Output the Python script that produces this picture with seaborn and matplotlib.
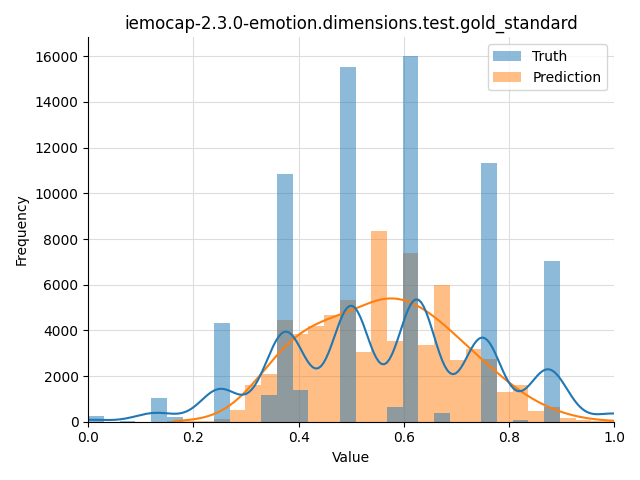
import numpy as np
import pandas as pd
import matplotlib
matplotlib.use("Agg")
import matplotlib.pyplot as plt
import seaborn as sns
from matplotlib.patches import Patch

# ==========================================
# Data (value -> count)
# ==========================================
TITLE = "iemocap-2.3.0-emotion.dimensions.test.gold_standard"

truth_values = [0.0, 0.0833, 0.125, 0.1667, 0.25, 0.3333, 0.375, 0.4167,
                0.5, 0.5833, 0.625, 0.6667, 0.75, 0.8333, 0.875, 1.0]
truth_counts = [260, 45, 1050, 220, 4330, 1180, 10850, 1400,
                15550, 630, 16030, 395, 11340, 90, 7050, 1100]

pred_values = [0.164, 0.194, 0.224, 0.254, 0.284, 0.314, 0.344, 0.374,
               0.404, 0.434, 0.463, 0.493, 0.523, 0.553, 0.583, 0.613,
               0.643, 0.673, 0.703, 0.733, 0.762, 0.792, 0.822, 0.852,
               0.882, 0.912, 0.942, 0.972, 1.002]
pred_counts = [20, 40, 45, 117, 525, 1620, 2100, 4470,
               3860, 4200, 4690, 5340, 3040, 8370, 3550, 7400,
               3340, 5970, 2720, 3200, 2760, 1285, 1620, 466,
               640, 160, 87, 40, 15]

BIN_WIDTH = 0.0299

df_truth = pd.DataFrame({"value": truth_values, "count": truth_counts})
df_pred = pd.DataFrame({"value": pred_values, "count": pred_counts})

blue, orange = sns.color_palette("tab10")[:2]

fig, ax = plt.subplots(figsize=(6.4, 4.8), dpi=100)

# prediction first so the truth bars sit on top (grey overlap)
pred_bins = [i * BIN_WIDTH for i in range(35)]
truth_bins = [i * BIN_WIDTH for i in range(34)]
sns.histplot(df_pred, x="value", weights="count", bins=pred_bins,
             kde=True, kde_kws={"bw_adjust": 0.6}, color=orange,
             edgecolor="none", ax=ax)
sns.histplot(df_truth, x="value", weights="count", bins=truth_bins,
             kde=True, kde_kws={"bw_adjust": 0.25}, color=blue,
             edgecolor="none", ax=ax)

ax.set_xlim(0, 1)
ax.set_title(TITLE)
ax.set_xlabel("Value")
ax.set_ylabel("Frequency")
ax.grid(True, color="#dddddd", linewidth=0.8)
ax.set_axisbelow(True)
sns.despine(ax=ax)

handles = [Patch(facecolor=blue, alpha=0.5, label="Truth"),
           Patch(facecolor=orange, alpha=0.5, label="Prediction")]
ax.legend(handles=handles, loc="upper right")

plt.tight_layout()
plt.savefig("out.png", dpi=100)
plt.close()
